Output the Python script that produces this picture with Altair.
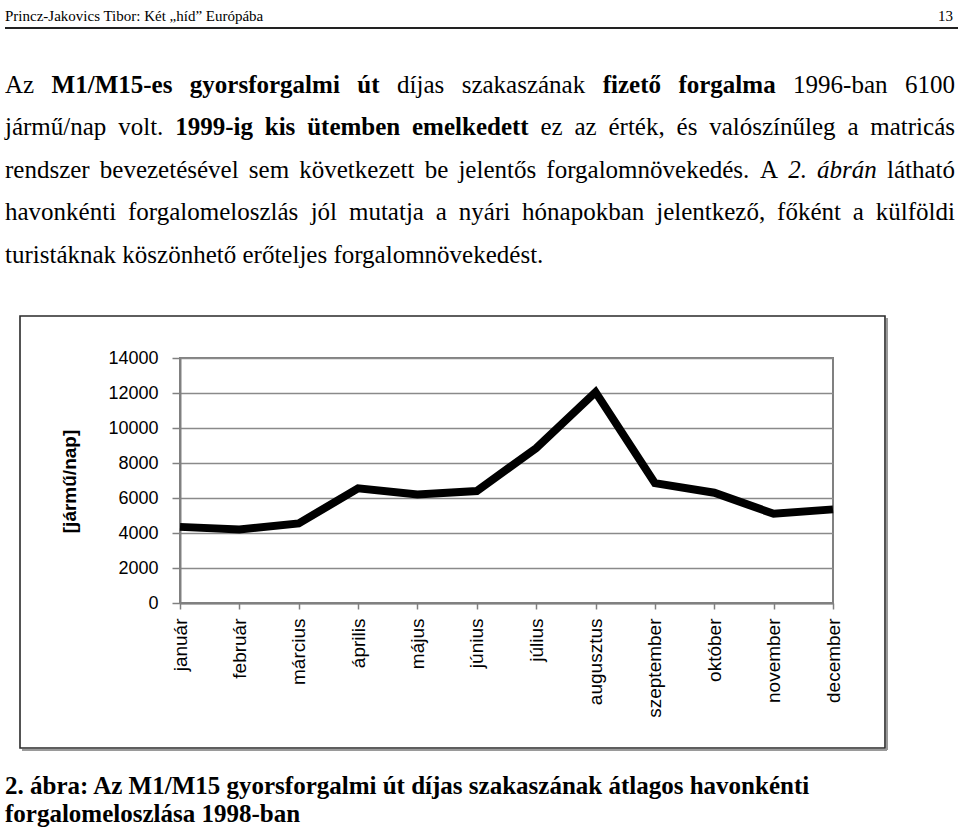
import altair as alt
import pandas as pd

# ---------------- data ----------------
months = ["január", "február", "március", "április", "május", "június",
          "július", "augusztus", "szeptember", "október", "november", "december"]
traffic = [4350, 4200, 4550, 6550, 6200, 6400, 8850, 12050, 6850, 6300, 5100, 5350]
y_ticks = [0, 2000, 4000, 6000, 8000, 10000, 12000, 14000]
y_title = "[jármű/nap]"

header_left = "Princz-Jakovics Tibor: Két „híd” Európába"
header_right = "13"
paragraph = [
    [("n", "Az"), ("b", "M1/M15-es gyorsforgalmi út"), ("n", "díjas szakaszának"),
     ("b", "fizető forgalma"), ("n", "1996-ban 6100")],
    [("n", "jármű/nap volt."), ("b", "1999-ig kis ütemben emelkedett"),
     ("n", "ez az érték, és valószínűleg a matricás")],
    [("n", "rendszer bevezetésével sem következett be jelentős forgalomnövekedés. A"),
     ("i", "2. ábrán"), ("n", "látható")],
    [("n", "havonkénti forgalomeloszlás jól mutatja a nyári hónapokban jelentkező, főként a külföldi")],
    [("n", "turistáknak köszönhető erőteljes forgalomnövekedést.")],
]
caption = ["2. ábra: Az M1/M15 gyorsforgalmi út díjas szakaszának átlagos havonkénti",
           "forgalomeloszlása 1998-ban"]

# ---------------- layout helpers ----------------
PL, PT, PR, PB = 180, 358, 127, 228          # plot area offsets on the page
W, H = 960 - PL - PR, 831 - PT - PB

REG = {' ': 250, ',': 250, '-': 333, '.': 250, '/': 278, ':': 278, '„': 444, '”': 444,
       'A': 722, 'E': 611, 'J': 389, 'K': 722, 'M': 889, 'P': 556, 'T': 611,
       'a': 444, 'b': 500, 'c': 444, 'd': 500, 'e': 444, 'f': 333, 'g': 500, 'h': 500,
       'i': 278, 'j': 278, 'k': 500, 'l': 278, 'm': 778, 'n': 500, 'o': 500, 'p': 500,
       'q': 500, 'r': 333, 's': 389, 't': 278, 'u': 500, 'v': 500, 'w': 722, 'x': 500,
       'y': 500, 'z': 444, 'á': 444, 'é': 444, 'í': 278, 'ó': 500, 'ö': 500, 'ő': 500,
       'ú': 500, 'ü': 500, 'ű': 500}
BOLD = {' ': 250, ',': 250, '-': 333, '.': 250, '/': 278, ':': 333, 'A': 722, 'M': 944,
        'a': 500, 'b': 556, 'c': 444, 'd': 556, 'e': 444, 'f': 333, 'g': 500, 'h': 556,
        'i': 278, 'j': 333, 'k': 556, 'l': 278, 'm': 833, 'n': 556, 'o': 500, 'p': 556,
        'r': 444, 's': 389, 't': 333, 'u': 556, 'v': 500, 'y': 500, 'z': 444, 'á': 500,
        'é': 444, 'í': 278, 'ó': 500, 'ö': 500, 'ő': 500, 'ú': 556, 'ü': 556, 'ű': 556}
ITAL = {' ': 250, '.': 250, 'a': 500, 'b': 500, 'r': 389, 'n': 500, 'á': 500}
TABLES = {"n": REG, "b": BOLD, "i": ITAL}

FS = 25
LEFT, RIGHT = 5, 955
baselines = [93, 135, 178, 220, 263]


def wwidth(word, style):
    t = TABLES[style]
    return sum(t.get(c, 500) for c in word) * FS / 1000.0


rows = []
for li, line in enumerate(paragraph):
    words = [(s, w) for s, run in line for w in run.split(" ")]
    widths = [wwidth(w, s) for s, w in words]
    if li < len(paragraph) - 1 and len(words) > 1:
        gap = (RIGHT - LEFT - sum(widths)) / (len(words) - 1)
    else:
        gap = 0.25 * FS
    x = LEFT
    for (s, w), ww in zip(words, widths):
        rows.append({"w": w, "s": s, "x": x - PL, "y": baselines[li] - PT})
        x += ww + gap
words_df = pd.DataFrame(rows)

cap_df = pd.DataFrame({"w": caption, "x": [5 - PL] * 2, "y": [794 - PT, 822 - PT]})
head_df = pd.DataFrame({"w": [header_left, header_right],
                        "x": [5 - PL, 953 - PL], "y": [21 - PT, 21 - PT],
                        "a": ["left", "right"]})


def text_layer(df, **kw):
    base = dict(baseline="alphabetic", font="Liberation Serif", fontSize=FS, color="black")
    base.update(kw)
    return alt.Chart(df).mark_text(**base).encode(
        x=alt.X("x:Q", scale=None), y=alt.Y("y:Q", scale=None), text="w:N")


layers = []
# outer figure box with a light shadow
one = pd.DataFrame({"k": [0]})
layers.append(alt.Chart(one).mark_rule(color="#9a9a9a", strokeWidth=2).encode(
    x=alt.value(22 - PL), x2=alt.value(887 - PL), y=alt.value(750 - PT)))
layers.append(alt.Chart(one).mark_rule(color="#9a9a9a", strokeWidth=2).encode(
    x=alt.value(887 - PL), y=alt.value(318 - PT), y2=alt.value(750 - PT)))
layers.append(alt.Chart(one).mark_rect(fill=None, fillOpacity=0, stroke="#2a2a2a", strokeWidth=1.6).encode(
    x=alt.value(20 - PL), x2=alt.value(885 - PL), y=alt.value(316 - PT), y2=alt.value(748 - PT)))
# header rule
layers.append(alt.Chart(one).mark_rule(color="#222", strokeWidth=2).encode(
    x=alt.value(5 - PL), x2=alt.value(958 - PL), y=alt.value(28 - PT)))

df = pd.DataFrame({"month": months, "v": traffic})
line = alt.Chart(df).mark_line(color="black", strokeWidth=8, strokeJoin="miter").encode(
    x=alt.X("month:N", sort=months,
            scale=alt.Scale(type="point", padding=0),
            axis=alt.Axis(title=None, labelAngle=270, labelFont="Liberation Sans",
                          labelFontSize=19, labelColor="black", tickSize=6, labelPadding=9,
                          domainColor="#808080", domainWidth=2, tickColor="#808080",
                          tickWidth=1.5, grid=False)),
    y=alt.Y("v:Q", scale=alt.Scale(domain=[0, 14000], nice=False, zero=True),
            axis=alt.Axis(values=y_ticks, format="d", title=y_title,
                          titleFont="Liberation Sans", titleFontSize=19, titleFontWeight="bold",
                          titleColor="black", titleX=69 - PL, titleY=481 - PT, titleAngle=270,
                          titleAlign="center", titleBaseline="middle",
                          labelFont="Liberation Sans", labelFontSize=18, labelColor="black",
                          tickSize=8, labelPadding=14, grid=True, gridColor="#8a8a8a",
                          gridWidth=1.5, domainColor="#808080", domainWidth=2,
                          tickColor="#808080", tickWidth=1.5)),
)
layers.append(line)

layers.append(text_layer(words_df[words_df.s == "n"], align="left"))
layers.append(text_layer(words_df[words_df.s == "b"], align="left", fontWeight="bold"))
layers.append(text_layer(words_df[words_df.s == "i"], align="left", fontStyle="italic"))
layers.append(text_layer(cap_df, align="left", fontWeight="bold"))
layers.append(text_layer(head_df[head_df.a == "left"], align="left", fontSize=15))
layers.append(text_layer(head_df[head_df.a == "right"], align="right", fontSize=15))

chart = alt.layer(*layers).properties(
    width=W, height=H,
    padding={"left": PL, "top": PT, "right": PR, "bottom": PB},
    autosize=alt.AutoSizeParams(type="none"),
    background="white",
).configure_view(stroke="#808080", strokeWidth=2)

chart.save("out.html", embed_options={"renderer": "svg", "actions": False})
